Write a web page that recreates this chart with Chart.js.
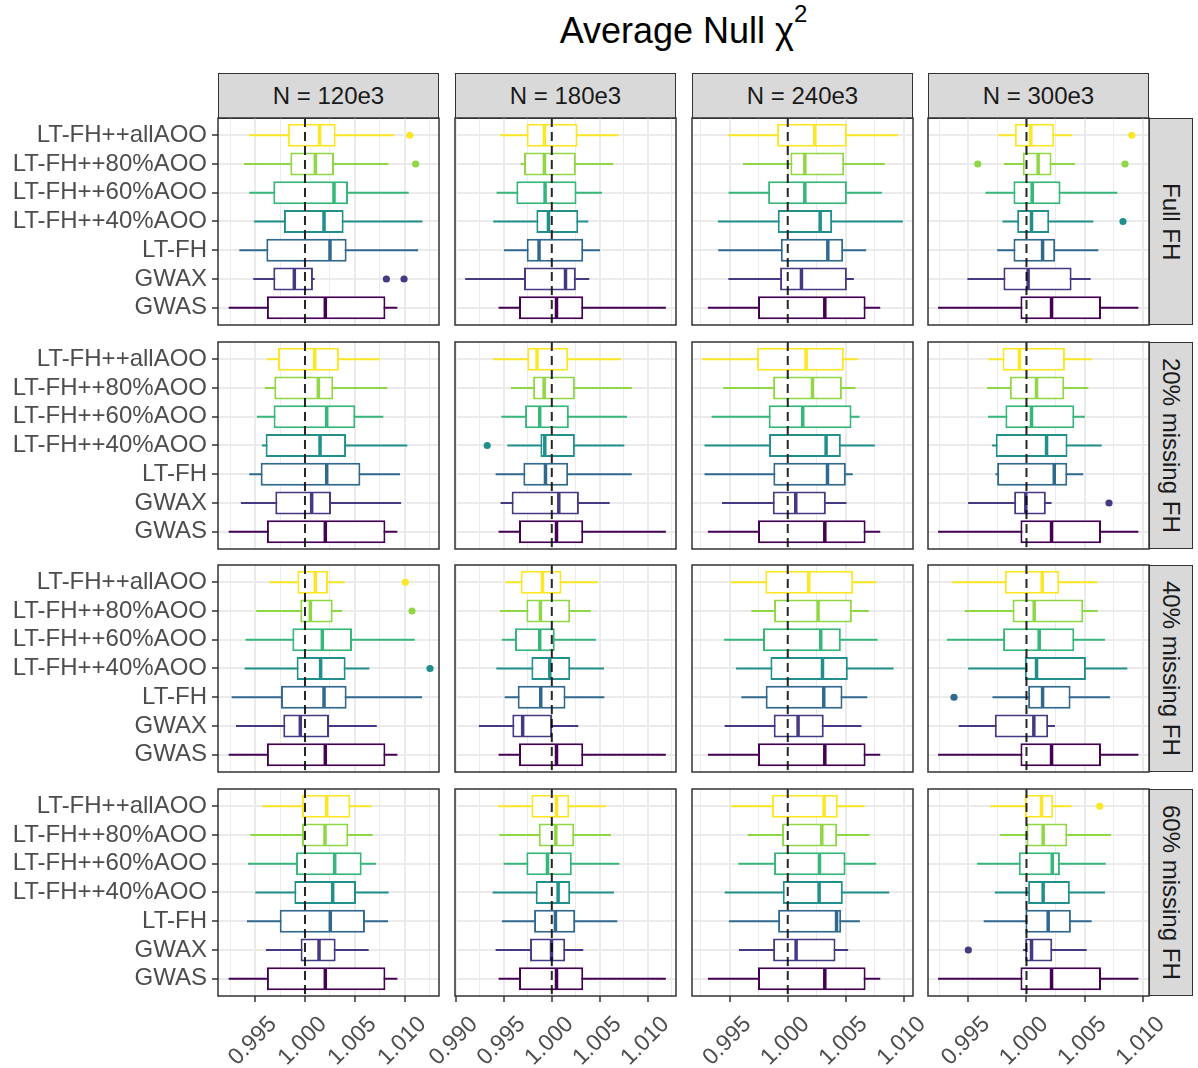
<!DOCTYPE html>
<html>
<head>
<meta charset="utf-8">
<script src="https://cdn.jsdelivr.net/npm/chart.js@4.4.1/dist/chart.umd.min.js"></script>
<style>
  html, body { margin: 0; padding: 0; background: #ffffff; }
  #fig { position: relative; width: 1198px; height: 1068px; overflow: hidden;
         font-family: 'Liberation Sans', Arial, Helvetica, sans-serif; }
  #fig canvas { position: absolute; }
  .title { position: absolute; left: 218px; width: 931px; top: 8px; height: 46px;
           text-align: center; font-size: 36px; line-height: 46px; color: #000; }
  .title sup { font-size: 24px; position: relative; top: -6px; vertical-align: top; line-height: 24px; }
  .strip { position: absolute; box-sizing: border-box; background: #D9D9D9;
           border: 1.5px solid #333333; color: #1A1A1A; font-size: 24px;
           display: flex; align-items: center; justify-content: center; white-space: nowrap; }
  .strip.side span { writing-mode: vertical-rl; }
</style>
</head>
<body>
<div id="fig">
  <div class="title">Average Null χ<sup>2</sup></div>
</div>
<script>
// Methods from bottom to top of each panel, with their viridis colours
const METHODS = ['GWAS', 'GWAX', 'LT-FH', 'LT-FH++40%AOO', 'LT-FH++60%AOO', 'LT-FH++80%AOO', 'LT-FH++allAOO'];
const METHOD_COLORS = ['#440154', '#443A83', '#31688E', '#21908C', '#35B779', '#8FD744', '#FDE725'];

// Facet labels: columns are sample sizes, rows are family-history scenarios
const SAMPLE_SIZES = ['N = 120e3', 'N = 180e3', 'N = 240e3', 'N = 300e3'];
const SCENARIOS = ['Full FH', '20% missing FH', '40% missing FH', '60% missing FH'];

// Expected mean chi-square under the null (dashed reference line)
const NULL_EXPECTED = 1.0;
// Gridline spacing on the x axis; every second line carries a label
const X_TICK_STEP = 0.0025;

// Box summaries, one row per method (GWAS ... allAOO):
// [lower whisker, Q1, median, Q3, upper whisker]
const fullFH_120 = [
  [0.99234, 0.99618, 1.00204, 1.00807, 1.00927],
  [0.99481, 0.99682, 0.99893, 1.00080, 1.00097],
  [0.99341, 0.99612, 1.00251, 1.00418, 1.01135],
  [0.99488, 0.99789, 1.00191, 1.00388, 1.01178],
  [0.99441, 0.99682, 1.00291, 1.00432, 1.01041],
  [0.99388, 0.99853, 1.00104, 1.00291, 1.00837],
  [0.99438, 0.99829, 1.00147, 1.00308, 1.00894]
];
const fullFH_180 = [
  [0.99445, 0.99658, 1.00049, 1.00328, 1.01190],
  [0.99096, 0.99710, 1.00143, 1.00251, 1.00391],
  [0.99501, 0.99738, 0.99867, 1.00328, 1.00503],
  [0.99389, 0.99839, 0.99965, 1.00276, 1.00380],
  [0.99424, 0.99630, 0.99930, 1.00258, 1.00524],
  [0.99675, 0.99710, 0.99923, 1.00251, 1.00642],
  [0.99462, 0.99738, 0.99923, 1.00269, 1.00695]
];
const fullFH_240 = [
  [0.99313, 0.99744, 1.00319, 1.00670, 1.00796],
  [0.99489, 0.99934, 1.00118, 1.00509, 1.00569],
  [0.99402, 0.99940, 1.00345, 1.00477, 1.00675],
  [0.99399, 0.99914, 1.00279, 1.00382, 1.00991],
  [0.99491, 0.99831, 1.00147, 1.00509, 1.00810],
  [0.99615, 1.00023, 1.00147, 1.00486, 1.00836],
  [0.99483, 0.99908, 1.00233, 1.00509, 1.00951]
];
const fullFH_300 = [
  [0.99241, 0.99948, 1.00215, 1.00639, 1.00960],
  [0.99493, 0.99802, 1.00014, 1.00387, 1.00550],
  [0.99748, 0.99888, 1.00138, 1.00246, 1.00616],
  [0.99794, 0.99920, 1.00043, 1.00195, 1.00573],
  [0.99648, 0.99888, 1.00049, 1.00292, 1.00779],
  [0.99808, 0.99968, 1.00100, 1.00215, 1.00415],
  [0.99756, 0.99900, 1.00037, 1.00238, 1.00393]
];

const miss20_120 = [
  [0.99234, 0.99618, 1.00204, 1.00807, 1.00927],
  [0.99357, 0.99702, 1.00067, 1.00261, 1.00964],
  [0.99441, 0.99555, 1.00218, 1.00556, 1.00954],
  [0.99568, 0.99605, 1.00151, 1.00412, 1.01027],
  [0.99518, 0.99685, 1.00218, 1.00505, 1.00786],
  [0.99598, 0.99692, 1.00134, 1.00284, 1.00827],
  [0.99618, 0.99729, 1.00097, 1.00341, 1.00750]
];
const miss20_180 = [
  [0.99445, 0.99658, 1.00049, 1.00328, 1.01190],
  [0.99466, 0.99581, 1.00073, 1.00283, 1.00604],
  [0.99414, 0.99703, 0.99934, 1.00171, 1.00834],
  [0.99536, 0.99881, 0.99927, 1.00241, 1.00757],
  [0.99473, 0.99721, 0.99874, 1.00178, 1.00785],
  [0.99574, 0.99805, 0.99920, 1.00241, 1.00838],
  [0.99389, 0.99745, 0.99846, 1.00171, 1.00723]
];
const miss20_240 = [
  [0.99313, 0.99744, 1.00319, 1.00670, 1.00796],
  [0.99434, 0.99871, 1.00069, 1.00328, 1.00506],
  [0.99284, 0.99876, 1.00342, 1.00500, 1.00560],
  [0.99284, 0.99839, 1.00330, 1.00457, 1.00750],
  [0.99345, 0.99836, 1.00129, 1.00549, 1.00618],
  [0.99445, 0.99874, 1.00213, 1.00466, 1.00583],
  [0.99261, 0.99736, 1.00158, 1.00483, 1.00603]
];
const miss20_300 = [
  [0.99241, 0.99948, 1.00215, 1.00639, 1.00960],
  [0.99499, 0.99894, 0.99994, 1.00166, 1.00215],
  [0.99734, 0.99748, 1.00238, 1.00350, 1.00487],
  [0.99705, 0.99736, 1.00172, 1.00352, 1.00645],
  [0.99670, 0.99819, 1.00043, 1.00410, 1.00501],
  [0.99662, 0.99857, 1.00086, 1.00324, 1.00530],
  [0.99676, 0.99794, 0.99940, 1.00330, 1.00559]
];

const miss40_120 = [
  [0.99234, 0.99618, 1.00204, 1.00807, 1.00927],
  [0.99307, 0.99782, 0.99953, 1.00241, 1.00720],
  [0.99264, 0.99759, 1.00191, 1.00418, 1.01175],
  [0.99394, 0.99916, 1.00157, 1.00408, 1.00646],
  [0.99404, 0.99873, 1.00174, 1.00472, 1.01101],
  [0.99511, 0.99953, 1.00054, 1.00278, 1.00371],
  [0.99645, 0.99923, 1.00104, 1.00231, 1.00402]
];
const miss40_180 = [
  [0.99445, 0.99658, 1.00049, 1.00328, 1.01190],
  [0.99239, 0.99588, 0.99696, 1.00003, 1.00276],
  [0.99508, 0.99644, 0.99885, 1.00143, 1.00548],
  [0.99421, 0.99787, 0.99979, 1.00192, 1.00545],
  [0.99480, 0.99616, 0.99874, 1.00031, 1.00461],
  [0.99459, 0.99735, 0.99881, 1.00192, 1.00408],
  [0.99515, 0.99675, 0.99902, 1.00101, 1.00482]
];
const miss40_240 = [
  [0.99313, 0.99744, 1.00319, 1.00670, 1.00796],
  [0.99457, 0.99879, 1.00089, 1.00310, 1.00635],
  [0.99601, 0.99810, 1.00310, 1.00471, 1.00684],
  [0.99555, 0.99851, 1.00299, 1.00517, 1.00911],
  [0.99451, 0.99787, 1.00284, 1.00457, 1.00773],
  [0.99687, 0.99882, 1.00261, 1.00552, 1.00698],
  [0.99506, 0.99807, 1.00181, 1.00563, 1.00764]
];
const miss40_300 = [
  [0.99241, 0.99948, 1.00215, 1.00639, 1.00960],
  [0.99418, 0.99728, 1.00063, 1.00186, 1.00244],
  [0.99708, 1.00014, 1.00138, 1.00378, 1.00716],
  [0.99499, 0.99986, 1.00086, 1.00510, 1.00865],
  [0.99318, 0.99799, 1.00109, 1.00410, 1.00673],
  [0.99470, 0.99880, 1.00066, 1.00487, 1.00610],
  [0.99361, 0.99814, 1.00135, 1.00281, 1.00610]
];

const miss60_120 = [
  [0.99234, 0.99618, 1.00204, 1.00807, 1.00927],
  [0.99608, 0.99956, 1.00141, 1.00308, 1.00639],
  [0.99418, 0.99746, 1.00254, 1.00602, 1.00833],
  [0.99501, 0.99893, 1.00278, 1.00512, 1.00840],
  [0.99428, 0.99910, 1.00298, 1.00569, 1.00713],
  [0.99451, 0.99970, 1.00201, 1.00435, 1.00679],
  [0.99572, 0.99970, 1.00218, 1.00455, 1.00669]
];
const miss60_180 = [
  [0.99445, 0.99658, 1.00049, 1.00328, 1.01190],
  [0.99414, 0.99773, 0.99997, 1.00140, 1.00328],
  [0.99480, 0.99815, 1.00038, 1.00244, 1.00684],
  [0.99382, 0.99832, 1.00066, 1.00192, 1.00649],
  [0.99497, 0.99735, 0.99955, 1.00209, 1.00705],
  [0.99452, 0.99864, 1.00042, 1.00234, 1.00618],
  [0.99438, 0.99787, 1.00049, 1.00182, 1.00565]
];
const miss60_240 = [
  [0.99313, 0.99744, 1.00319, 1.00670, 1.00796],
  [0.99580, 0.99874, 1.00072, 1.00411, 1.00520],
  [0.99494, 0.99917, 1.00420, 1.00460, 1.00621],
  [0.99457, 0.99957, 1.00270, 1.00474, 1.00874],
  [0.99575, 0.99882, 1.00273, 1.00497, 1.00761],
  [0.99655, 0.99951, 1.00293, 1.00425, 1.00704],
  [0.99511, 0.99865, 1.00313, 1.00431, 1.00661]
];
const miss60_300 = [
  [0.99241, 0.99948, 1.00215, 1.00639, 1.00960],
  [0.99971, 0.99989, 1.00043, 1.00221, 1.00516],
  [0.99633, 0.99991, 1.00186, 1.00381, 1.00559],
  [0.99728, 1.00014, 1.00143, 1.00372, 1.00673],
  [0.99576, 0.99934, 1.00221, 1.00287, 1.00679],
  [0.99771, 1.00000, 1.00143, 1.00350, 1.00725],
  [0.99688, 0.99986, 1.00129, 1.00229, 1.00387]
];

// Points beyond the whiskers: [method index, value]
const fullFH_120_out = [[1, 1.00817], [1, 1.00994], [5, 1.01111], [6, 1.01051]];
const fullFH_180_out = [];
const fullFH_240_out = [];
const fullFH_300_out = [[3, 1.00828], [5, 0.99582], [5, 1.00845], [6, 1.00903]];
const miss20_120_out = [];
const miss20_180_out = [[3, 0.99326]];
const miss20_240_out = [];
const miss20_300_out = [[1, 1.00708]];
const miss40_120_out = [[3, 1.01255], [5, 1.01074], [6, 1.01007]];
const miss40_180_out = [];
const miss40_240_out = [];
const miss40_300_out = [[2, 0.99378]];
const miss60_120_out = [];
const miss60_180_out = [];
const miss60_240_out = [];
const miss60_300_out = [[1, 0.99501], [6, 1.00628]];

// Facet grid assembled from the arrays above (rows = scenarios, columns = sample sizes)
const SUMMARY = [
  [fullFH_120, fullFH_180, fullFH_240, fullFH_300],
  [miss20_120, miss20_180, miss20_240, miss20_300],
  [miss40_120, miss40_180, miss40_240, miss40_300],
  [miss60_120, miss60_180, miss60_240, miss60_300]
];
const OUTLIERS = [
  [fullFH_120_out, fullFH_180_out, fullFH_240_out, fullFH_300_out],
  [miss20_120_out, miss20_180_out, miss20_240_out, miss20_300_out],
  [miss40_120_out, miss40_180_out, miss40_240_out, miss40_300_out],
  [miss60_120_out, miss60_180_out, miss60_240_out, miss60_300_out]
];

// ---- layout ----
const X_LIMITS = [[0.99127, 1.01345], [0.98990, 1.01296], [0.99176, 1.01078], [0.99155, 1.01051]];
const PANEL_LEFT = [218, 455, 692, 928];
const PANEL_TOP = [118, 342, 565, 789];
const PANEL_W = 221, PANEL_H = 207;
const STRIP_TOP = 73, STRIP_SIDE_W = 44;
const BOX_WIDTH = 0.8;   // box height as a share of the category spacing

Chart.defaults.font.family = "'Liberation Sans', Arial, Helvetica, sans-serif";

const fig = document.getElementById('fig');

// Facet strips
SAMPLE_SIZES.forEach((lab, c) => {
  const d = document.createElement('div');
  d.className = 'strip';
  d.style.left = PANEL_LEFT[c] + 'px';
  d.style.top = STRIP_TOP + 'px';
  d.style.width = PANEL_W + 'px';
  d.style.height = (PANEL_TOP[0] - STRIP_TOP + 1) + 'px';
  d.textContent = lab;
  fig.appendChild(d);
});
SCENARIOS.forEach((lab, r) => {
  const d = document.createElement('div');
  d.className = 'strip side';
  d.style.left = (PANEL_LEFT[3] + PANEL_W) + 'px';
  d.style.top = PANEL_TOP[r] + 'px';
  d.style.width = STRIP_SIDE_W + 'px';
  d.style.height = PANEL_H + 'px';
  const s = document.createElement('span');
  s.textContent = lab;
  d.appendChild(s);
  fig.appendChild(d);
});

const isMajor = v => Math.abs(Math.round(v * 200) - v * 200) < 1e-6;

// Dashed null line drawn over the boxes, then the panel frame on top
const panelDecor = {
  id: 'panelDecor',
  afterDatasetsDraw(chart) {
    const { ctx, chartArea: a, scales: { x } } = chart;
    const px = x.getPixelForValue(NULL_EXPECTED);
    ctx.save();
    ctx.strokeStyle = 'rgba(0,0,0,0.85)';
    ctx.lineWidth = 2;
    ctx.setLineDash([9, 5]);
    ctx.beginPath();
    ctx.moveTo(px, a.top);
    ctx.lineTo(px, a.bottom);
    ctx.stroke();
    ctx.restore();
  },
  afterDraw(chart) {
    const { ctx, chartArea: a } = chart;
    ctx.save();
    ctx.strokeStyle = '#333333';
    ctx.lineWidth = 1.5;
    ctx.strokeRect(a.left, a.top, a.right - a.left, a.bottom - a.top);
    ctx.restore();
  }
};

function makePanel(row, col) {
  const rows = SUMMARY[row][col];
  const outs = OUTLIERS[row][col];
  const isLeft = col === 0, isBottom = row === 3;
  const padL = isLeft ? 218 : 60, padR = isBottom ? 40 : 8, padT = 8, padB = isBottom ? 80 : 8;

  const cv = document.createElement('canvas');
  cv.width = padL + PANEL_W + padR;
  cv.height = padT + PANEL_H + padB;
  cv.style.left = (PANEL_LEFT[col] - padL) + 'px';
  cv.style.top = (PANEL_TOP[row] - padT) + 'px';
  fig.appendChild(cv);

  const medianHalf = (ctx) => {
    const ys = ctx.chart.scales.y;
    const unit = Math.abs(ys.getPixelForValue(2) - ys.getPixelForValue(1));
    return unit * BOX_WIDTH / 2 - 1;
  };

  new Chart(cv, {
    type: 'bar',
    data: {
      datasets: [
        { // whiskers: full range, partly hidden under the white box
          label: 'whisker',
          data: rows.map((r, i) => ({ y: i + 1, x: [r[0], r[4]] })),
          backgroundColor: METHOD_COLORS,
          borderWidth: 0,
          maxBarThickness: 2,
          grouped: false,
          order: 3
        },
        { // interquartile boxes
          label: 'box',
          data: rows.map((r, i) => ({ y: i + 1, x: [r[1], r[3]] })),
          backgroundColor: '#ffffff',
          borderColor: METHOD_COLORS,
          borderWidth: 2,
          borderSkipped: false,
          grouped: false,
          categoryPercentage: 1,
          barPercentage: BOX_WIDTH,
          order: 2
        },
        { // medians
          type: 'scatter',
          label: 'median',
          data: rows.map((r, i) => ({ x: r[2], y: i + 1 })),
          pointStyle: 'line',
          rotation: 90,
          radius: medianHalf,
          borderColor: METHOD_COLORS,
          borderWidth: 3.5,
          order: 1
        },
        { // outlying points
          type: 'scatter',
          label: 'outlier',
          data: outs.map(([m, v]) => ({ x: v, y: m + 1 })),
          pointStyle: 'circle',
          radius: 3.6,
          backgroundColor: outs.map(([m]) => METHOD_COLORS[m]),
          borderWidth: 0,
          order: 0
        }
      ]
    },
    options: {
      indexAxis: 'y',
      responsive: false,
      animation: false,
      devicePixelRatio: 1,
      events: [],
      layout: { padding: { top: padT, right: padR, bottom: 0, left: 0 } },
      plugins: { legend: { display: false }, tooltip: { enabled: false }, title: { display: false } },
      scales: {
        x: {
          type: 'linear',
          bounds: 'data',
          offset: false,
          beginAtZero: false,
          min: X_LIMITS[col][0],
          max: X_LIMITS[col][1],
          afterBuildTicks: s => {
            const t = [];
            for (let k = Math.ceil(s.min / X_TICK_STEP - 1e-9); k * X_TICK_STEP <= s.max + 1e-12; k++) {
              t.push({ value: +(k * X_TICK_STEP).toFixed(4) });
            }
            s.ticks = t;
          },
          afterFit: s => { s.height = padB; s.paddingLeft = 0; s.paddingRight = 0; },
          ticks: {
            display: isBottom,
            autoSkip: false,
            minRotation: 45,
            maxRotation: 45,
            padding: 9,
            labelOffset: 18,
            color: '#4D4D4D',
            font: { size: 23 },
            callback: v => isMajor(v) ? v.toFixed(3) : ''
          },
          grid: {
            offset: false,
            color: '#EBEBEB',
            lineWidth: c => (c.tick && isMajor(c.tick.value)) ? 2 : 1,
            drawTicks: isBottom,
            tickLength: 6,
            tickWidth: 1.5,
            tickColor: c => (c.tick && isMajor(c.tick.value)) ? '#333333' : 'rgba(0,0,0,0)'
          },
          border: { display: false }
        },
        y: {
          type: 'linear',
          bounds: 'data',
          offset: false,
          min: 0.4,
          max: 7.6,
          afterBuildTicks: s => { s.ticks = METHODS.map((_, i) => ({ value: i + 1 })); },
          afterFit: s => { s.width = padL; s.paddingTop = 0; s.paddingBottom = 0; },
          ticks: {
            display: isLeft,
            autoSkip: false,
            padding: 5,
            color: '#4D4D4D',
            font: { size: 24 },
            callback: v => METHODS[Math.round(v) - 1]
          },
          grid: {
            offset: false,
            color: '#EBEBEB',
            lineWidth: 2,
            drawTicks: isLeft,
            tickLength: 6,
            tickWidth: 1.5,
            tickColor: '#333333'
          },
          border: { display: false }
        }
      }
    },
    plugins: [panelDecor]
  });
}

for (let r = 0; r < 4; r++) {
  for (let c = 0; c < 4; c++) makePanel(r, c);
}
</script>
</body>
</html>
